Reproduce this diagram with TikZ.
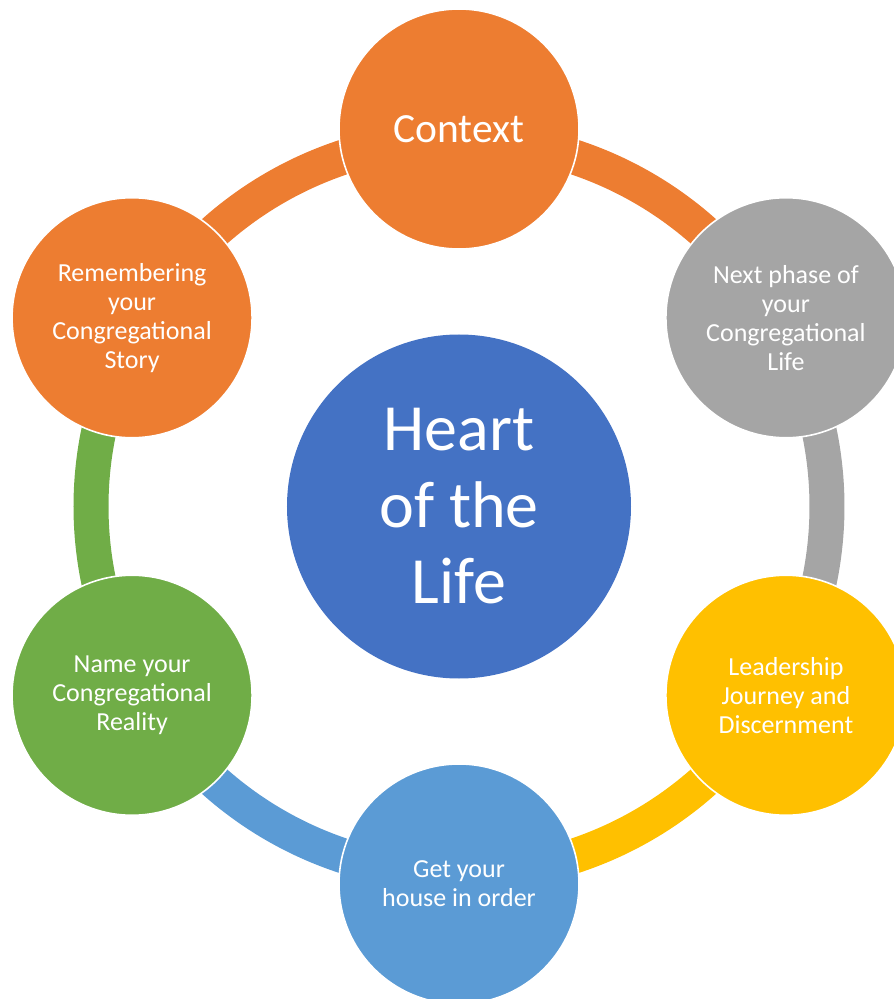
\documentclass[tikz,border=0pt]{standalone}
\usepackage{fontspec}
\setmainfont{Carlito}
\definecolor{cOrange}{HTML}{ED7D31}
\definecolor{cGray}{HTML}{A5A5A5}
\definecolor{cGold}{HTML}{FFC000}
\definecolor{cLBlue}{HTML}{5B9BD5}
\definecolor{cGreen}{HTML}{70AD47}
\definecolor{cBlue}{HTML}{4472C4}
\tikzset{
  outer/.style={circle, minimum size=240pt, inner sep=0pt, draw=white, line width=1.6pt,
    text=white, align=center, font=\fontsize{26}{29}\selectfont},
  hub/.style={circle, minimum size=344pt, inner sep=0pt, fill=cBlue, text=white,
    align=center, font=\fontsize{66}{76.5}\selectfont},
  ring/.style={line width=35pt},
}
\begin{document}
\begin{tikzpicture}
\useasboundingbox (-459pt,-492.5pt) rectangle (435pt,506.5pt);
\clip (-459pt,-492.5pt) rectangle (435pt,506.5pt);
% ring coordinates
\coordinate (r1) at (90:368pt);
\coordinate (r2) at (30:368pt);
\coordinate (r3) at (-30:368pt);
\coordinate (r4) at (-90:368pt);
\coordinate (r5) at (-150:368pt);
\coordinate (r6) at (150:368pt);
% ring segments (clockwise, coloured as their start circle)
\draw[ring, cOrange] (r1) arc[start angle=90, end angle=30, radius=368pt];
\draw[ring, cGray] (r2) arc[start angle=30, end angle=-30, radius=368pt];
\draw[ring, cGold] (r3) arc[start angle=-30, end angle=-90, radius=368pt];
\draw[ring, cLBlue] (r4) arc[start angle=-90, end angle=-150, radius=368pt];
\draw[ring, cGreen] (r5) arc[start angle=-150, end angle=-210, radius=368pt];
\draw[ring, cOrange] (r6) arc[start angle=150, end angle=90, radius=368pt];
% hub
\node[hub] (heart) at (0,0) {Heart\\of the\\Life};
% outer circles
\node[outer, fill=cOrange, font=\fontsize{41.5}{50}\selectfont] (ctx) at (90:377.5pt) {Context};
\node[outer, fill=cGray] (next) at (30:377.5pt) {Next phase of\\your\\Congregational\\Life};
\node[outer, fill=cGold] (lead) at (-30:377.5pt) {Leadership\\Journey and\\Discernment};
\node[outer, fill=cLBlue] (house) at (-90:377.5pt) {Get your\\house in order};
\node[outer, fill=cGreen] (name) at (-150:377.5pt) {Name your\\Congregational\\Reality};
\node[outer, fill=cOrange] (rem) at (150:377.5pt) {Remembering\\your\\Congregational\\Story};
\end{tikzpicture}
\end{document}
